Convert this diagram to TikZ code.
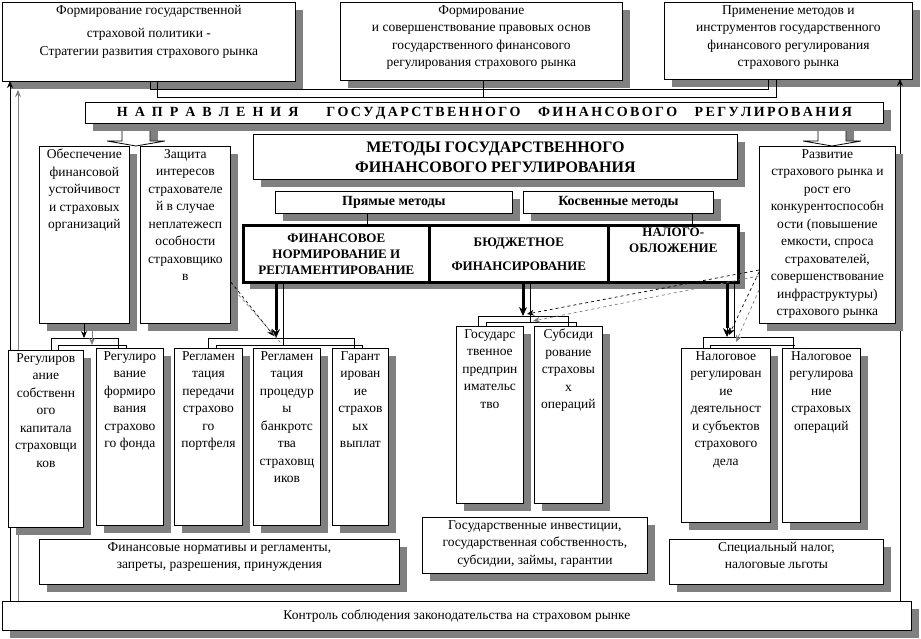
\documentclass[tikz,border=0pt]{standalone}
\usepackage{fontspec}
\setmainfont{Liberation Serif}
\usetikzlibrary{calc,arrows.meta}
\definecolor{shad}{HTML}{808080}
\tikzset{
 boxst/.style={draw,fill=white,inner sep=0pt,anchor=north west,line width=0.8pt},
 txt/.style={anchor=north,align=center,inner sep=0pt,font=\fontsize{13.5}{17.5}\selectfont},
 con/.style={line width=0.8pt},
 gcon/.style={line width=0.8pt,draw=shad},
 thk/.style={line width=3pt},
 dsh/.style={dashed,line width=0.7pt},
 gdsh/.style={dashed,line width=0.7pt,draw=shad},
 tip/.style={-{Stealth[length=7pt,width=6pt]}},
 btip/.style={-{Stealth[length=9pt,width=8pt]}},
 barrow/.style={draw,fill=white,line width=0.8pt},
}
\newcommand\bx[7][0]{%
 \fill[shad] (#3+8,#4+8) rectangle (#5+8,#6+8);
 \node[boxst,line width=#1pt+0.8pt,minimum width={(#5-#3)*1pt},minimum height={(#6-#4)*1pt}] (#2) at (#3,#4) {};
 \node[txt] at ([yshift=-3pt]#2.north) {#7};}
\newcommand\blockarrow[1]{% #1 = centre x
 \fill[shad] (#1-14+8,123) rectangle (#1+14+8,141);
 \draw[barrow] (#1-14,123) -- (#1-14,141) -- (#1-29,141) -- (#1,146) -- (#1+29,141) -- (#1+14,141) -- (#1+14,123);}
\begin{document}
\begin{tikzpicture}[x=1pt,y=-1pt]
\useasboundingbox[fill=white] (0,0) rectangle (921,639);
\draw[gcon,tip] (18,601) -- (18,90);
% top
\bx{t1}{2}{2}{295}{81}{Формирование государственной\\[6pt] страховой политики -\\ Стратегии развития страхового рынка}
\bx{t2}{340}{2}{622}{80}{Формирование\\ и совершенствование правовых основ\\ государственного финансового\\ регулирования страхового рынка}
\bx{t3}{664}{2}{912}{79}{Применение методов  и\\ инструментов государственного\\ финансового регулирования\\ страхового рынка}
\draw[con] (t1.south -| 150,0) -- (150,89) -- (768,89) -- (t3.south -| 768,0);
\draw[con] (t1.south -| 157,0) -- (157,97) -- (776,97) -- (t3.south -| 776,0);
\draw[con] (t2.south -| 483,0) -- (483,97);
\draw[con,tip] (10,601) -- (10,81);
\draw[con,tip] (900,601) -- (900,79);
% block arrows
\blockarrow{136}
\blockarrow{832}
% header
\fill[shad] (93,110) rectangle (891,131);
\node[boxst,minimum width=798pt,minimum height=21pt] (hd) at (85,102) {};
\node[inner sep=0,font=\fontsize{14}{14}\selectfont\bfseries] at (hd.center) {Н\,\,\,А\,\,\,П\,\,\,Р\,\,\,А\,\,\,В\,\,\,Л\,\,\,Е\,\,\,Н\,\,\,И\,\,\,Я\qquad Г\,О\,С\,У\,Д\,А\,Р\,С\,Т\,В\,Е\,Н\,Н\,О\,Г\,О\quad\ Ф\,И\,Н\,А\,Н\,С\,О\,В\,О\,Г\,О\quad\ Р\,Е\,Г\,У\,Л\,И\,Р\,О\,В\,А\,Н\,И\,Я};
% methods
\bx{mt}{253}{134}{737}{179}{}
\node[inner sep=0,align=center,font=\fontsize{16}{20}\selectfont\bfseries] at (mt.center) {МЕТОДЫ ГОСУДАРСТВЕННОГО\\ ФИНАНСОВОГО РЕГУЛИРОВАНИЯ};
\bx{pm}{275}{191}{512}{213}{}
\node[inner sep=0,font=\fontsize{14}{14}\selectfont\bfseries] at (pm.center) {Прямые методы};
\bx{km}{523}{191}{713}{213}{}
\node[inner sep=0,font=\fontsize{14}{14}\selectfont\bfseries] at (km.center) {Косвенные методы};
\draw[con] (pm.south -| 367,0) -- (367,224);
\draw[con] (km.south -| 692,0) -- (692,224);
% bold boxes
\fill[shad] (250,232) rectangle (745,289);
\bx[1.8]{fn}{242}{224}{428}{281}{}
\bx[1.8]{bf}{428}{224}{607}{281}{}
\bx[1.8]{nl}{607}{224}{737}{281}{}
\node[inner sep=0,align=center,font=\fontsize{13}{16}\selectfont\bfseries] at (fn.center) {ФИНАНСОВОЕ\\ НОРМИРОВАНИЕ И\\ РЕГЛАМЕНТИРОВАНИЕ};
\node[inner sep=0,align=center,font=\fontsize{13}{24}\selectfont\bfseries] at (bf.center) {БЮДЖЕТНОЕ\\ ФИНАНСИРОВАНИЕ};
\node[inner sep=0,align=center,font=\fontsize{13}{16}\selectfont\bfseries,anchor=north] at ([yshift=-4pt]nl.north) {НАЛОГО-\\ ОБЛОЖЕНИЕ};
% side boxes
\bx{ob}{39}{146}{129}{323}{Обеспечение\\ финансовой\\ устойчивост\\ и страховых\\ организаций}
\bx{zs}{140}{146}{230}{323}{Защита\\ интересов\\ страхователе\\ й в  случае\\ неплатежесп\\ особности\\ страховщико\\ в}
\bx{rz}{759}{146}{895}{323}{Развитие\\ страхового рынка и\\ рост  его\\ конкурентоспособн\\ ости (повышение\\ емкости, спроса\\ страхователей,\\ совершенствование\\ инфраструктуры)\\ страхового рынка}
% lower left group
\draw[con] (51,350) -- (51,338) -- (118,338) -- (118,348);
\draw[con] (58,350) -- (58,345) -- (126,345) -- (126,348);
\bx{b1}{8}{350}{83}{527}{Регулиров\\ ание\\ собственн\\ ого\\ капитала\\ страховщи\\ ков}
\bx{b2}{96}{348}{163}{525}{Регулиро\\ вание\\ формиро\\ вания\\ страхово\\ го фонда}
\draw[con,tip] (ob.south -| 84,0) -- (84,338);
\draw[gcon,tip] (ob.south -| 92,0) -- (92,345);
\draw[con] (208,348) -- (208,338) -- (354,338) -- (354,348);
\draw[con] (216,348) -- (216,345) -- (362,345) -- (362,348);
\bx{b3}{174}{348}{242}{525}{Регламен\\ тация\\ передачи\\ страхово\\ го\\ портфеля}
\bx{b4}{253}{348}{320}{525}{Регламен\\ тация\\ процедур\\ ы\\ банкротс\\ тва\\ страховщ\\ иков}
\bx{b5}{332}{348}{388}{525}{Гарант\\ ирован\\ ие\\ страхов\\ ых\\ выплат}
\draw[con,thk] (fn.south -| 276,0) -- (276,330);
\draw[con,btip] (276,326) -- (276,338);
\draw[con] (fn.south -| 283,0) -- (283,345);
\draw[dsh,tip] (zs.south east |- 0,282) -- (274,336);
\draw[gdsh] (zs.south east |- 0,286) -- (281,343);
\bx{fnrm}{39}{539}{399}{584}{Финансовые нормативы  и регламенты,\\ запреты, разрешения, принуждения}
% budget group
\draw[con] (478,326) -- (478,316) -- (568,316) -- (568,326);
\draw[con] (486,326) -- (486,322) -- (576,322) -- (576,326);
\bx{g1}{456}{326}{523}{503}{Государс\\ твенное\\ предприн\\ имательс\\ тво}
\bx{g2}{534}{326}{602}{503}{Субсиди\\ рование\\ страховы\\ х\\ операций}
\draw[con,thk] (bf.south -| 523,0) -- (523,310);
\draw[con,btip] (523,306) -- (523,316);
\draw[con] (bf.south -| 530,0) -- (530,322);
\draw[dsh,tip] (rz.west |- 0,270) -- (527,314);
\draw[gdsh,tip] (rz.west |- 0,276) -- (533,321);
\bx{gi}{422}{517}{647}{573}{Государственные инвестиции,\\ государственная собственность,\\ субсидии, займы, гарантии}
% tax group
\draw[con] (703,348) -- (703,337) -- (793,337) -- (793,348);
\draw[con] (710,348) -- (710,345) -- (795,345);
\bx{n1}{681}{348}{770}{522}{Налоговое\\ регулирован\\ ие\\ деятельност\\ и субъектов\\ страхового\\ дела}
\bx{n2}{782}{348}{860}{522}{Налоговое\\ регулирова\\ ние\\ страховых\\ операций}
\draw[con,thk] (nl.south -| 727,0) -- (727,328);
\draw[con,btip] (727,324) -- (727,337);
\draw[con] (nl.south -| 734,0) -- (734,337);
\draw[dsh,tip] (rz.west |- 0,272) -- (729,335);
\draw[gdsh,tip] (rz.west |- 0,290) -- (736,342);
\bx{sp}{669}{539}{883}{584}{Специальный налог,\\ налоговые льготы}
% control
\bx{ct}{2}{601}{911}{630}{}
\node[inner sep=0,font=\fontsize{13.5}{14}\selectfont] at (ct.center) {Контроль соблюдения законодательства на страховом рынке};
\end{tikzpicture}
\end{document}
